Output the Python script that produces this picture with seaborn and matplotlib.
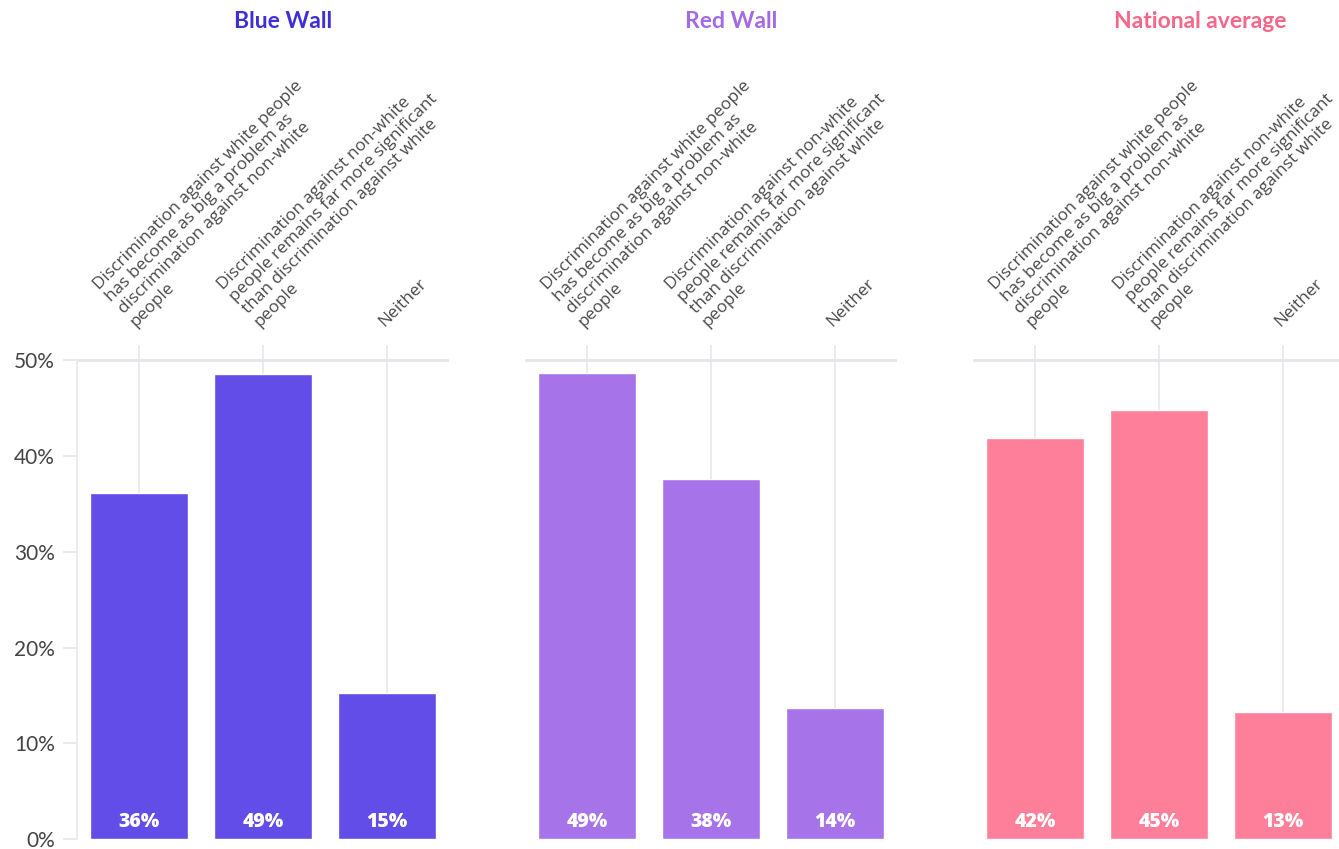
import matplotlib
matplotlib.use("Agg")
import matplotlib.pyplot as plt
import matplotlib.transforms as mtransforms
import seaborn as sns
import pandas as pd

# ---- data ----
categories = [
    "Discrimination against white people\nhas become as big a problem as\ndiscrimination against non-white\npeople",
    "Discrimination against non-white\npeople remains far more significant\nthan discrimination against white\npeople",
    "Neither",
]
groups = ["Blue Wall", "Red Wall", "National average"]
blue_wall = [36.1, 48.6, 15.2]
red_wall = [48.7, 37.6, 13.7]
national_average = [41.9, 44.8, 13.3]
value_labels = {
    "Blue Wall": ["36%", "49%", "15%"],
    "Red Wall": ["49%", "38%", "14%"],
    "National average": ["42%", "45%", "13%"],
}
y_ticks = [0, 10, 20, 30, 40, 50]
y_tick_labels = ["0%", "10%", "20%", "30%", "40%", "50%"]

bar_colors = ["#624de8", "#a674e8", "#fe7f99"]
title_colors = ["#3f30d6", "#a36ae6", "#f2678a"]

series = [blue_wall, red_wall, national_average]

sns.set_theme(style="white")
plt.rcParams["font.family"] = ["Lato", "DejaVu Sans"]

W, H = 1339, 849
fig = plt.figure(figsize=(W / 100, H / 100), dpi=100)

ax_left_px = [77, 525, 973]
ax_width_px = 372
ax_bottom_px = 839
ax_top_px = 345

for i, (g, vals) in enumerate(zip(groups, series)):
    left = ax_left_px[i] / W
    bottom = (H - ax_bottom_px) / H
    height = (ax_bottom_px - ax_top_px) / H
    ax = fig.add_axes([left, bottom, ax_width_px / W, height])
    df = pd.DataFrame({"cat": categories, "val": vals})
    sns.barplot(data=df, x="cat", y="val", order=categories, color=bar_colors[i],
                saturation=1, width=0.79, ax=ax, zorder=3)
    ax.set_xlim(-0.5, 2.5)
    ax.set_ylim(0, 51.6)
    ax.set_xlabel("")
    ax.set_ylabel("")

    # vertical gridlines
    for x in range(len(categories)):
        ax.axvline(x, color="#e9e9ee", lw=1.3, zorder=1)
    ax.axhline(50, color="#e6e6ea", lw=2, zorder=1)

    for s in ["top", "right", "bottom"]:
        ax.spines[s].set_visible(False)

    ax.xaxis.tick_top()
    ax.set_xticks(range(len(categories)))
    labels = ax.set_xticklabels(categories, rotation=45, ha="left", va="bottom",
                                rotation_mode="anchor", fontsize=12.4,
                                family=["Open Sans", "DejaVu Sans"],
                                color="#4a4a4a", multialignment="left",
                                linespacing=1.12)
    offset = mtransforms.ScaledTranslation(-6 / 100, 0, fig.dpi_scale_trans)
    for lab in labels:
        lab.set_transform(lab.get_transform() + offset)
    ax.tick_params(axis="x", length=0, pad=11)

    if i == 0:
        ax.set_yticks(y_ticks)
        ax.set_yticklabels(y_tick_labels, fontsize=15, color="#444444")
        ax.tick_params(axis="y", length=10, width=1.2, color="#e6e6ea", pad=6, left=True)
        ax.spines["left"].set_color("#ebebef")
        ax.spines["left"].set_linewidth(1.3)
        ax.spines["left"].set_bounds(0, 50)
    else:
        ax.set_yticks([])
        ax.spines["left"].set_visible(False)

    for j, lab in enumerate(value_labels[g]):
        ax.annotate(lab, xy=(j, 0), xytext=(0, 5), textcoords="offset points",
                    ha="center", va="bottom", color="white", fontsize=14,
                    family=["Open Sans", "DejaVu Sans"],
                    fontweight="heavy", zorder=5)

title_x_px = [283, 731, 1200]
for i, g in enumerate(groups):
    fig.text(title_x_px[i] / W, 1 - 22 / H, g, ha="center", va="center",
             fontsize=16.5, fontweight="bold", color=title_colors[i])

fig.savefig("out.png", dpi=100)
